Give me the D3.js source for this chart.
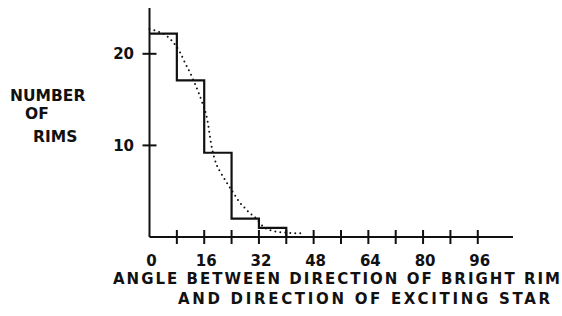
<!DOCTYPE html>
<html>
<head>
<meta charset="utf-8">
<script src="https://cdn.jsdelivr.net/npm/d3@7"></script>
<style>
  body { margin: 0; background: #fff; }
  svg text { font-family: "DejaVu Sans", sans-serif; font-weight: bold; fill: #111; }
</style>
</head>
<body>
<div id="chart"></div>
<script>
/* DATA */
// histogram bins of width 8 degrees
const binStarts = [0, 8, 16, 24, 32];
const binCounts = [22.2, 17.1, 9.2, 2.0, 1.0];
const binEnd = 40;

// dotted smooth curve
const curveAngle = [0, 2, 4.6, 6.6, 9, 10.4, 11.9, 13.1, 14.3, 15.4, 16.9, 18.1, 19.6, 20.7, 22.5, 24.9, 26.3, 27.8, 29.3, 30.7, 33.4, 36.9, 40, 44.3];
const curveCount = [22.7, 22.5, 22.05, 21.4, 20.1, 19.0, 17.9, 16.9, 15.8, 14.7, 12.8, 10.0, 7.9, 7.1, 6.0, 4.6, 3.8, 3.2, 2.6, 2.2, 1.1, 0.6, 0.48, 0.4];

const xTicks = [8, 16, 24, 32, 40, 48, 56, 64, 72, 80, 88, 96];
const xTickLabels = [0, 16, 32, 48, 64, 80, 96];
const yTicks = [10, 20];

/* CONSTANTS */
const width = 562, height = 316;

const svg = d3.select("#chart")
  .append("svg")
  .attr("width", width)
  .attr("height", height);

//SCALES
const xScale = d3.scaleLinear()
  .domain([0, 106.3])
  .range([149.5, 513]);

const yScale = d3.scaleLinear()
  .domain([0, 25])
  .range([237, 8]);

//AXES (drawn by hand to get the crossing ticks)
svg.append("line")
  .attr("x1", xScale(0)).attr("x2", xScale(0))
  .attr("y1", yScale(0)).attr("y2", yScale(25))
  .attr("stroke", "#111").attr("stroke-width", 2);

svg.append("line")
  .attr("x1", xScale(0)).attr("x2", xScale(106.3))
  .attr("y1", yScale(0)).attr("y2", yScale(0))
  .attr("stroke", "#111").attr("stroke-width", 2);

svg.selectAll(".xtick")
  .data(xTicks)
  .join("line")
  .attr("class", "xtick")
  .attr("x1", d => xScale(d)).attr("x2", d => xScale(d))
  .attr("y1", yScale(0) - 7).attr("y2", yScale(0) + 7)
  .attr("stroke", "#111").attr("stroke-width", 2);

svg.selectAll(".ytick")
  .data(yTicks)
  .join("line")
  .attr("class", "ytick")
  .attr("x1", xScale(0) - 7).attr("x2", xScale(0) + 7)
  .attr("y1", d => yScale(d)).attr("y2", d => yScale(d))
  .attr("stroke", "#111").attr("stroke-width", 2);

svg.selectAll(".xlabel")
  .data(xTickLabels)
  .join("text")
  .attr("class", "xlabel")
  .attr("x", d => xScale(d) + 2)
  .attr("y", 266)
  .attr("text-anchor", "middle")
  .style("font-size", "15px")
  .text(d => d);

svg.selectAll(".ylabel")
  .data(yTicks)
  .join("text")
  .attr("class", "ylabel")
  .attr("x", 134)
  .attr("y", d => yScale(d) + 5.5)
  .attr("text-anchor", "end")
  .style("font-size", "15px")
  .text(d => d);

//HISTOGRAM
const histPoints = binStarts.map((d, i) => [d, binCounts[i]]);
histPoints.push([binEnd, 0]);

const stepLine = d3.line()
  .x(d => xScale(d[0]))
  .y(d => yScale(d[1]))
  .curve(d3.curveStepAfter);

svg.append("path")
  .attr("d", stepLine(histPoints))
  .attr("fill", "none")
  .attr("stroke", "#111")
  .attr("stroke-width", 2.2);

//DOTTED CURVE
const smoothLine = d3.line()
  .x(d => xScale(d[0]))
  .y(d => yScale(d[1]))
  .curve(d3.curveMonotoneX);

svg.append("path")
  .attr("d", smoothLine(curveAngle.map((d, i) => [d, curveCount[i]])))
  .attr("fill", "none")
  .attr("stroke", "#111")
  .attr("stroke-width", 2)
  .attr("stroke-linecap", "round")
  .attr("stroke-dasharray", "0,5");

//AXIS TITLES
const yTitle = [
  { t: "NUMBER", x: 10, y: 101 },
  { t: "OF", x: 25, y: 119 },
  { t: "RIMS", x: 33, y: 142 }
];
svg.selectAll(".ytitle")
  .data(yTitle)
  .join("text")
  .attr("class", "ytitle")
  .attr("x", d => d.x)
  .attr("y", d => d.y)
  .style("font-size", "15.5px")
  .text(d => d.t);

svg.append("text")
  .attr("x", 113)
  .attr("y", 284)
  .attr("textLength", 447)
  .attr("lengthAdjust", "spacing")
  .style("font-size", "15px")
  .text("ANGLE  BETWEEN DIRECTION OF BRIGHT RIM");

svg.append("text")
  .attr("x", 178)
  .attr("y", 304)
  .attr("textLength", 372)
  .attr("lengthAdjust", "spacing")
  .style("font-size", "15px")
  .text("AND DIRECTION OF EXCITING STAR");
</script>
</body>
</html>
